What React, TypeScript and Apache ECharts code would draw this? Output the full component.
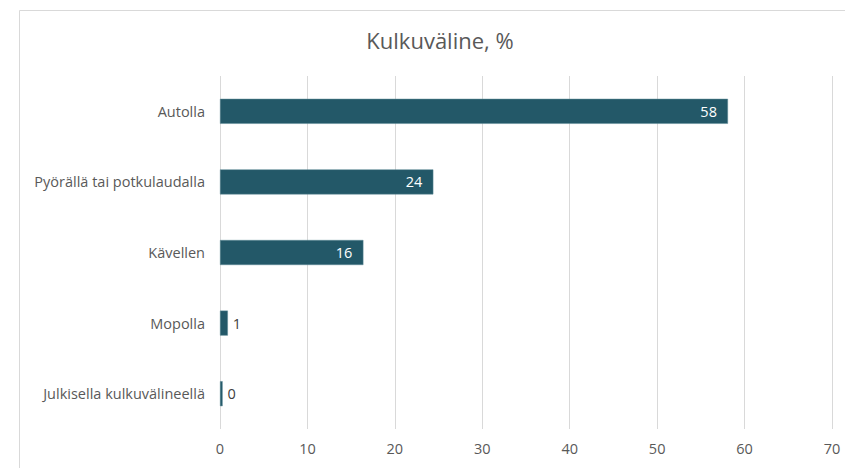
import React, { useEffect, useRef } from "react";
import * as echarts from "echarts";

const categories = [
  "Autolla",
  "Pyörällä tai potkulaudalla",
  "Kävellen",
  "Mopolla",
  "Julkisella kulkuvälineellä",
];
const values = [58.1, 24.4, 16.4, 0.9, 0.3];
const insideThreshold = 5;

const FONT = "Open Sans";

export default function App() {
  const ref = useRef<HTMLDivElement>(null);
  useEffect(() => {
    if (!ref.current) return;
    const chart = echarts.init(ref.current, null, { renderer: "svg" });
    chart.setOption({
      animation: false,
      backgroundColor: "#ffffff",
      graphic: [
        {
          type: "rect",
          shape: { x: 19.5, y: 10.5, width: 900, height: 600 },
          style: { fill: "none", stroke: "#D9D9D9", lineWidth: 1 },
          silent: true,
        },
        {
          type: "text",
          x: 440,
          y: 40,
          style: {
            text: "Kulkuväline, %",
            fontFamily: FONT,
            fontSize: 22,
            fill: "#595959",
            align: "center",
            verticalAlign: "middle",
          },
          silent: true,
        },
      ],
      grid: { left: 220, right: 13, top: 76, bottom: 39, containLabel: false },
      xAxis: {
        type: "value",
        min: 0,
        max: 70,
        interval: 10,
        axisLine: { show: false },
        axisTick: { show: false },
        splitLine: { show: true, lineStyle: { color: "#D9D9D9", width: 1 } },
        axisLabel: { fontFamily: FONT, fontSize: 14.5, color: "#595959", margin: 12 },
      },
      yAxis: {
        type: "category",
        data: categories,
        inverse: true,
        axisLine: { show: false },
        axisTick: { show: false },
        axisLabel: { fontFamily: FONT, fontSize: 14.5, color: "#595959", margin: 15 },
      },
      series: [
        {
          type: "bar",
          barWidth: 25,
          data: values.map((v) => ({
            value: v,
            label:
              v < insideThreshold
                ? { position: "right", color: "#404040", distance: 5 }
                : { position: "insideRight", color: "#ffffff", distance: 11 },
          })),
          itemStyle: { color: "#235868", borderColor: "#5E8A96", borderWidth: 0.5 },
          label: {
            show: true,
            fontFamily: FONT,
            fontSize: 14.5,
            formatter: (p: any) => String(Math.round(p.value)),
          },
        },
      ],
    });
    return () => chart.dispose();
  }, []);
  return (
    <div
      ref={ref}
      style={{ position: "fixed", left: 0, top: 0, width: 845, height: 468 }}
    />
  );
}
